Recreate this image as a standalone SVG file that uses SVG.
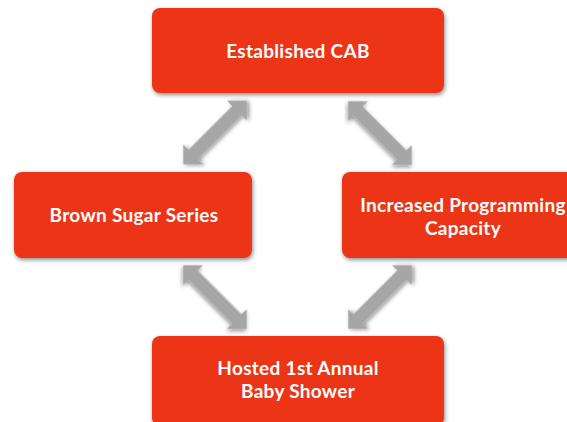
<svg xmlns="http://www.w3.org/2000/svg" width="567" height="422" viewBox="0 0 567 422">
<defs>
<filter id="sh" x="-10%" y="-10%" width="125%" height="130%">
<feGaussianBlur in="SourceAlpha" stdDeviation="2"/>
<feOffset dx="1" dy="2" result="b"/>
<feComponentTransfer><feFuncA type="linear" slope="0.45"/></feComponentTransfer>
<feMerge><feMergeNode/><feMergeNode in="SourceGraphic"/></feMerge>
</filter>
<path id="arr" d="M-45,0 L-31,-14 L-31,-6.5 L31,-6.5 L31,-14 L45,0 L31,14 L31,6.5 L-31,6.5 L-31,14 Z"/>
</defs>
<style>
.box{fill:#EC3519;filter:url(#sh)}
.t{font-family:Lato,"Open Sans","Liberation Sans",sans-serif;font-weight:bold;font-size:19px;letter-spacing:0.3px;fill:#fff;text-anchor:middle}
.a{fill:#A6A6A6;filter:url(#sh)}
</style>
<rect width="567" height="422" fill="#fff"/>
<g id="connectors">
<use href="#arr" class="a" transform="translate(215,132.5) rotate(-45)"/>
<use href="#arr" class="a" transform="translate(380,133) rotate(45)"/>
<use href="#arr" class="a" transform="translate(215,297) rotate(45)"/>
<use href="#arr" class="a" transform="translate(380,297) rotate(-45)"/>
</g>
<g id="established">
<rect class="box" x="152" y="8" width="292" height="85" rx="8"/>
<text class="t" x="298" y="58">Established CAB</text>
</g>
<g id="brown-sugar">
<rect class="box" x="14" y="172" width="238" height="86" rx="8"/>
<text class="t" x="134" y="222">Brown Sugar Series</text>
</g>
<g id="programming">
<rect class="box" x="342" y="172" width="242" height="86" rx="8"/>
<text class="t" x="463" y="212">Increased Programming</text>
<text class="t" x="463" y="235">Capacity</text>
</g>
<g id="baby-shower">
<rect class="box" x="152" y="336" width="292" height="90" rx="8"/>
<text class="t" x="298" y="375">Hosted 1st Annual</text>
<text class="t" x="298" y="398">Baby Shower</text>
</g>
</svg>
